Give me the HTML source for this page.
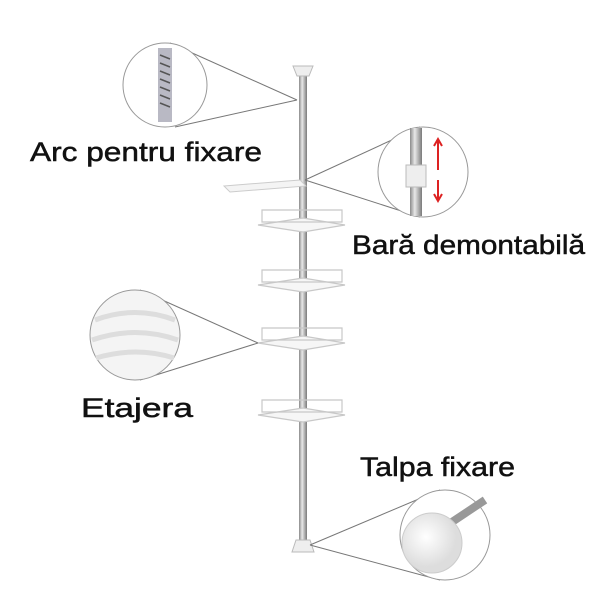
<!DOCTYPE html>
<html><head><meta charset="utf-8"><style>
html,body{margin:0;padding:0;background:#fff;}
svg{display:block}
text{font-family:"Liberation Sans",sans-serif;fill:#111;stroke:#111;stroke-width:0.5;}
</style></head><body>
<svg width="600" height="600" viewBox="0 0 600 600" xmlns="http://www.w3.org/2000/svg">
<defs>
<linearGradient id="pole" x1="0" x2="1"><stop offset="0" stop-color="#8a8a8a"/><stop offset="0.4" stop-color="#e8e8e8"/><stop offset="1" stop-color="#7a7a7a"/></linearGradient>
<radialGradient id="disc" cx="0.4" cy="0.4"><stop offset="0" stop-color="#fff"/><stop offset="1" stop-color="#ddd"/></radialGradient>
</defs>
<rect x="299" y="72" width="8" height="470" fill="url(#pole)"/>
<path d="M293 66 h20 l-4 10 h-12 z" fill="#eee" stroke="#bbb"/>
<path d="M296 540 h14 l4 12 h-22 z" fill="#eee" stroke="#bbb"/>
<path d="M224 186 L300 180 L306 186 L230 192 Z" fill="#f4f4f4" stroke="#ccc"/>
<g fill="#f6f6f6" stroke="#c8c8c8" stroke-width="1.2">
<path d="M258 225 L303 218 L345 225 L303 232 Z"/><path d="M262 210 h80 v12 h-80 z" fill="none"/>
<path d="M258 285 L303 278 L345 285 L303 292 Z"/><path d="M262 270 h80 v12 h-80 z" fill="none"/>
<path d="M258 343 L303 336 L345 343 L303 350 Z"/><path d="M262 328 h80 v12 h-80 z" fill="none"/>
<path d="M258 415 L303 408 L345 415 L303 422 Z"/><path d="M262 400 h80 v12 h-80 z" fill="none"/>
</g>
<g stroke="#777" stroke-width="1" fill="none">
<line x1="170" y1="43" x2="297" y2="100"/><line x1="175" y1="127" x2="297" y2="100"/>
<line x1="305" y1="180" x2="420" y2="127"/><line x1="305" y1="180" x2="420" y2="217"/>
<line x1="140" y1="290" x2="258" y2="343"/><line x1="140" y1="380" x2="258" y2="343"/>
<line x1="310" y1="545" x2="440" y2="490"/><line x1="310" y1="545" x2="440" y2="580"/>
</g>
<circle cx="165" cy="85" r="42" fill="#fff" stroke="#999"/>
<rect x="158" y="48" width="14" height="74" fill="#b9b9c4"/>
<path d="M160 55 l10 4 M160 63 l10 4 M160 71 l10 4 M160 79 l10 4 M160 87 l10 4 M160 95 l10 4 M160 103 l10 4" stroke="#555" stroke-width="1.5"/>
<circle cx="423" cy="172" r="45" fill="#fff" stroke="#999"/>
<rect x="410" y="128" width="12" height="88" fill="url(#pole)"/>
<rect x="406" y="165" width="20" height="22" fill="#eee" stroke="#bbb"/>
<path d="M438 140 v30 M434 146 l4 -7 l4 7 M438 180 v20 M434 194 l4 7 l4 -7" stroke="#d22" stroke-width="2" fill="none"/>
<circle cx="135" cy="335" r="45" fill="#f4f4f4" stroke="#999"/>
<path d="M95 320 q40 -15 80 0 M92 340 q43 -15 86 0 M96 358 q40 -12 78 0" stroke="#ddd" stroke-width="5" fill="none"/>
<circle cx="445" cy="535" r="45" fill="#fff" stroke="#999"/>
<line x1="440" y1="530" x2="485" y2="500" stroke="#999" stroke-width="8"/>
<circle cx="432" cy="543" r="30" fill="url(#disc)" stroke="#ccc"/>
<text x="30" y="161" font-size="27" textLength="232" lengthAdjust="spacingAndGlyphs">Arc  pentru fixare</text>
<text x="352" y="254" font-size="27" textLength="233" lengthAdjust="spacingAndGlyphs">Bară demontabilă</text>
<text x="81" y="417" font-size="27" textLength="112" lengthAdjust="spacingAndGlyphs">Etajera</text>
<text x="360" y="476" font-size="27" textLength="155" lengthAdjust="spacingAndGlyphs">Talpa fixare</text>
</svg>
</body></html>
